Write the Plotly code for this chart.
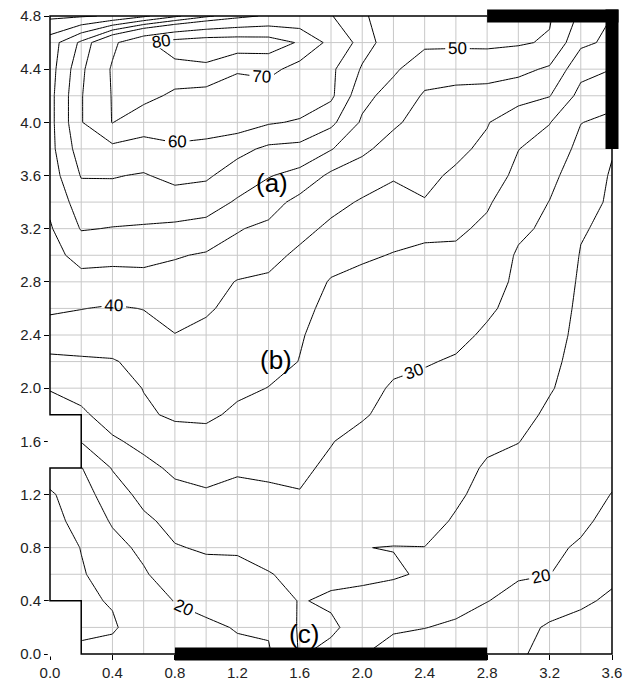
import plotly.graph_objects as go

# ---------------- data (grid of measured values, 0.2 spacing) ----------------
x_vals = [0.0, 0.2, 0.4, 0.6, 0.8, 1.0, 1.2, 1.4, 1.6, 1.8, 2.0, 2.2, 2.4, 2.6, 2.8, 3.0, 3.2, 3.4, 3.6]
y_vals = [0.0, 0.2, 0.4, 0.6, 0.8, 1.0, 1.2, 1.4, 1.6, 1.8, 2.0, 2.2, 2.4, 2.6, 2.8, 3.0, 3.2, 3.4, 3.6,
          3.8, 4.0, 4.2, 4.4, 4.6, 4.8]

# one list per x column, values listed from y = 0.0 up to y = 4.8
z_x00 = [11, 11, 12, 12.5, 13, 13.5, 14.3, 18, 23, 27.5, 30.3, 34, 37.5, 40.8, 42.5, 43.5, 44.5, 46, 47.5, 48.5, 48.5, 48.5, 48, 47.5, 39]
z_x02 = [16, 14, 14.3, 14.7, 15.1, 16.5, 18, 19.8, 25.2, 29, 32, 34.3, 37.8, 40.1, 43.5, 46.5, 50.3, 52.5, 55.3, 57.5, 59.5, 59.5, 58.5, 56, 39.5]
z_x04 = [16.5, 14.5, 15.3, 16.5, 18.5, 20.5, 22.5, 25.3, 29.2, 32.5, 33.5, 34.6, 38, 39.6, 42.8, 46.6, 49.8, 52.8, 55.3, 57.5, 70.3, 70.5, 71, 68, 40.5]
z_x06 = [17.5, 17.2, 18.5, 19.5, 21, 24, 26.5, 28.5, 31.5, 34.5, 35.1, 36.5, 38.5, 40.1, 43.5, 46.3, 49.5, 52.6, 54.6, 58.3, 62, 74, 75, 78.5, 44]
z_x08 = [18.5, 19.2, 20.1, 22.5, 24.7, 26.5, 28.6, 31, 33.5, 35.5, 36.5, 38, 39.9, 41.5, 43, 45.4, 49.2, 52.4, 56.5, 59.2, 62.5, 67.5, 77.5, 84, 49]
z_x10 = [19, 19.4, 21, 23.5, 25.5, 27, 29.5, 31.5, 33, 36, 37, 38, 38.8, 40.6, 42.5, 44.5, 48.5, 52, 55.8, 58.5, 62.5, 66, 78, 86, 54]
z_x12 = [19.3, 20.2, 22, 23.8, 25.5, 27.3, 29, 30.5, 32, 34, 36, 37, 37.8, 38.6, 39.7, 43.5, 45.3, 49.5, 52.5, 56.5, 62.5, 65, 71, 86, 58]
z_x14 = [19.5, 20.5, 23, 24.8, 26.5, 28, 29.3, 30.8, 32, 33.5, 34.9, 36.5, 37.3, 38.2, 39.2, 41.5, 44, 47, 50.3, 54, 60.5, 64, 73, 85, 61]
z_x16 = [25.3, 25.5, 25.2, 26, 27.5, 28.8, 29.8, 30.8, 32, 33, 34, 34.9, 35.3, 36, 37.8, 39, 41.5, 43.5, 48.5, 53.5, 59.5, 63, 66, 79, 62]
z_x18 = [24, 25.6, 24.5, 25.8, 27, 28, 28.8, 29.2, 30.2, 31.5, 32.5, 33, 33.5, 34, 34.6, 37, 39, 41.5, 44, 50.3, 56.2, 61, 61, 67, 60.3]
z_x20 = [20.2, 23.5, 24.2, 25.6, 25.05, 27, 27.8, 28.3, 28.5, 30.5, 31.5, 32, 32.5, 33, 33.8, 35.6, 37.5, 39.5, 42.5, 46, 49.3, 51.5, 54.5, 57, 55.5]
z_x22 = [18.5, 20.5, 23, 25.5, 24.9, 26.5, 27, 27.5, 28, 28.5, 29.5, 31, 32, 32.5, 33, 34.8, 36.5, 38.5, 40.4, 43, 45.8, 48, 50.8, 52.5, 53]
z_x24 = [17.5, 20.1, 22, 24.5, 24.95, 26.3, 26.8, 27.3, 27.8, 28.3, 29, 30.3, 31.2, 32, 33, 34.3, 35.8, 39.8, 41, 42, 43, 44.5, 47, 51, 52]
z_x26 = [16.5, 19.3, 21.5, 22.5, 23.5, 24.6, 25.6, 26.5, 27.2, 28, 28.8, 29.6, 31, 32, 33, 34.2, 35.7, 37.5, 39.3, 41, 42, 44, 46.5, 51, 52]
z_x28 = [15.8, 18, 20.1, 21.3, 22.3, 23, 23.8, 24.5, 25.8, 27, 27.8, 28.6, 29.4, 30.6, 31.5, 32.8, 34.2, 35.5, 37.5, 39, 40.3, 43.5, 46.8, 51, 52]
z_x30 = [15.3, 16, 18.8, 20.4, 21, 21.8, 22.7, 23.8, 25.1, 26.3, 27, 27.6, 28.2, 28.8, 29.3, 29.5, 30.8, 32.5, 33.8, 35.1, 36.8, 42, 46.3, 50.5, 51]
z_x32 = [14.3, 14.6, 16.5, 20.1, 20.8, 21.4, 22, 22.7, 23.4, 24.3, 25.3, 25.8, 26.3, 26.8, 27.5, 28.3, 29.2, 29.9, 31.2, 32.8, 35.2, 40.2, 44.3, 49.5, 50.5]
z_x34 = [13, 14, 15.5, 17.5, 19.5, 20.8, 21.5, 22, 22.5, 23, 23.4, 23.8, 24.1, 24.3, 24.5, 24.8, 25.3, 26.5, 27.5, 28.8, 30.1, 33.5, 36.5, 41, 44]
z_x36 = [12, 13, 14.5, 15.6, 17.3, 18.8, 19.9, 21, 21.8, 22.3, 22.8, 23.1, 23.4, 23.6, 23.8, 24, 24.2, 24.4, 24.6, 25.3, 29, 31.5, 35, 39, 40]

x_tick_vals = [0.0, 0.4, 0.8, 1.2, 1.6, 2.0, 2.4, 2.8, 3.2, 3.6]
x_tick_text = ["0.0", "0.4", "0.8", "1.2", "1.6", "2.0", "2.4", "2.8", "3.2", "3.6"]
y_tick_vals = [0.0, 0.4, 0.8, 1.2, 1.6, 2.0, 2.4, 2.8, 3.2, 3.6, 4.0, 4.4, 4.8]
y_tick_text = ["0.0", "0.4", "0.8", "1.2", "1.6", "2.0", "2.4", "2.8", "3.2", "3.6", "4.0", "4.4", "4.8"]
x_grid_vals = [0.2, 0.4, 0.6, 0.8, 1.0, 1.2, 1.4, 1.6, 1.8, 2.0, 2.2, 2.4, 2.6, 2.8, 3.0, 3.2, 3.4]
y_grid_vals = [0.2, 0.4, 0.6, 0.8, 1.0, 1.2, 1.4, 1.6, 1.8, 2.0, 2.2, 2.4, 2.6, 2.8, 3.0, 3.2, 3.4, 3.6,
               3.8, 4.0, 4.2, 4.4, 4.6]

zone_labels = ["(a)", "(b)", "(c)"]
zone_x = [1.42, 1.45, 1.63]
zone_y = [3.54, 2.21, 0.15]

# walls (thick black bars) and the outline of the measured area, in data units
walls = [((0.8, 0.0), (2.8, 0.0)), ((2.8, 4.8), (3.6, 4.8)), ((3.6, 3.8), (3.6, 4.8))]
outline = [(3.6, 3.8), (3.6, 0.0), (0.2, 0.0), (0.2, 0.4), (0.0, 0.4), (0.0, 1.4), (0.2, 1.4),
           (0.2, 1.8), (0.0, 1.8), (0.0, 4.8), (2.8, 4.8)]
notches = [((0.0, 1.4), (0.2, 1.8)), ((0.0, 0.0), (0.2, 0.4))]

# ---------------- figure ----------------
W, H = 623, 689
ML, MR, MT, MB = 50, 11, 16, 35
PW, PH = W - ML - MR, H - MT - MB
XMAX, YMAX = 3.6, 4.8

columns = [z_x00, z_x02, z_x04, z_x06, z_x08, z_x10, z_x12, z_x14, z_x16, z_x18,
           z_x20, z_x22, z_x24, z_x26, z_x28, z_x30, z_x32, z_x34, z_x36]
z = [list(r) for r in zip(*columns)]

FONT = "Liberation Sans, Arial, sans-serif"

fig = go.Figure()
fig.add_trace(go.Contour(
    x=x_vals, y=y_vals, z=z, showscale=False, hoverinfo="skip",
    contours=dict(start=15, end=55, size=10, coloring="none", showlabels=False),
    line=dict(color="black", width=1, smoothing=0),
))
fig.add_trace(go.Contour(
    x=x_vals, y=y_vals, z=z, showscale=False, hoverinfo="skip",
    contours=dict(start=20, end=80, size=10, coloring="none", showlabels=True,
                  labelfont=dict(size=17, color="black", family=FONT)),
    line=dict(color="black", width=1, smoothing=0),
))


def px_x(x):
    return x / XMAX


def px_y(y):
    return y / YMAX


grid_col = "#c8c8c8"
shapes = []
# light grid every 0.2 (drawn below the contour lines)
for gx in x_grid_vals:
    shapes.append(dict(type="line", xref="paper", yref="paper", x0=px_x(gx), x1=px_x(gx),
                       y0=0, y1=1, line=dict(color=grid_col, width=1), layer="below"))
for gy in y_grid_vals:
    shapes.append(dict(type="line", xref="paper", yref="paper", x0=0, x1=1,
                       y0=px_y(gy), y1=px_y(gy), line=dict(color=grid_col, width=1), layer="below"))

for (a, b) in notches:
    shapes.append(dict(type="rect", xref="paper", yref="paper",
                       x0=px_x(a[0]) - 0.004, x1=px_x(b[0]), y0=px_y(a[1]) - 0.004, y1=px_y(b[1]),
                       fillcolor="white", line=dict(width=0), layer="above"))

path = "M " + " L ".join(f"{px_x(x):.5f},{px_y(y):.5f}" for x, y in outline)
shapes.append(dict(type="path", xref="paper", yref="paper", path=path,
                   line=dict(color="black", width=1.5), layer="above"))

half_x = 6.5 / PW
half_y = 6.5 / PH
for (a, b) in walls:
    if a[1] == b[1]:  # horizontal
        x0, x1 = px_x(min(a[0], b[0])), px_x(max(a[0], b[0]))
        if max(a[0], b[0]) >= XMAX:
            x1 += half_x
        yc = px_y(a[1])
        shapes.append(dict(type="rect", xref="paper", yref="paper", x0=x0, x1=x1,
                           y0=yc - half_y, y1=yc + half_y, fillcolor="black",
                           line=dict(width=0), layer="above"))
    else:
        xc = px_x(a[0])
        y0, y1 = px_y(min(a[1], b[1])), px_y(max(a[1], b[1]))
        if max(a[1], b[1]) >= YMAX:
            y1 += half_y
        shapes.append(dict(type="rect", xref="paper", yref="paper", x0=xc - half_x, x1=xc + half_x,
                           y0=y0, y1=y1, fillcolor="black", line=dict(width=0), layer="above"))

annotations = [dict(x=xv, y=yv, text=t, showarrow=False, xanchor="center", yanchor="middle",
                    font=dict(size=26, color="black", family=FONT))
               for t, xv, yv in zip(zone_labels, zone_x, zone_y)]

axis_common = dict(showgrid=False, zeroline=False, showline=False, automargin=False,
                   ticks="outside", ticklen=5, tickcolor="black", tickwidth=1,
                   tickfont=dict(size=15, color="#222222", family=FONT))
fig.update_layout(
    width=W, height=H,
    margin=dict(l=ML, r=MR, t=MT, b=MB, autoexpand=False),
    paper_bgcolor="white", plot_bgcolor="white",
    showlegend=False,
    shapes=shapes, annotations=annotations,
    xaxis=dict(range=[0, XMAX], tickmode="array", tickvals=x_tick_vals, ticktext=x_tick_text,
               **axis_common),
    yaxis=dict(range=[0, YMAX], tickmode="array", tickvals=y_tick_vals, ticktext=y_tick_text,
               **axis_common),
)

# remove the browser's default page margin so the figure fills the window exactly
fig.write_html("out.html",
               config={"displayModeBar": False, "staticPlot": True},
               post_script="document.body.style.margin='0';document.body.style.overflow='hidden';")
